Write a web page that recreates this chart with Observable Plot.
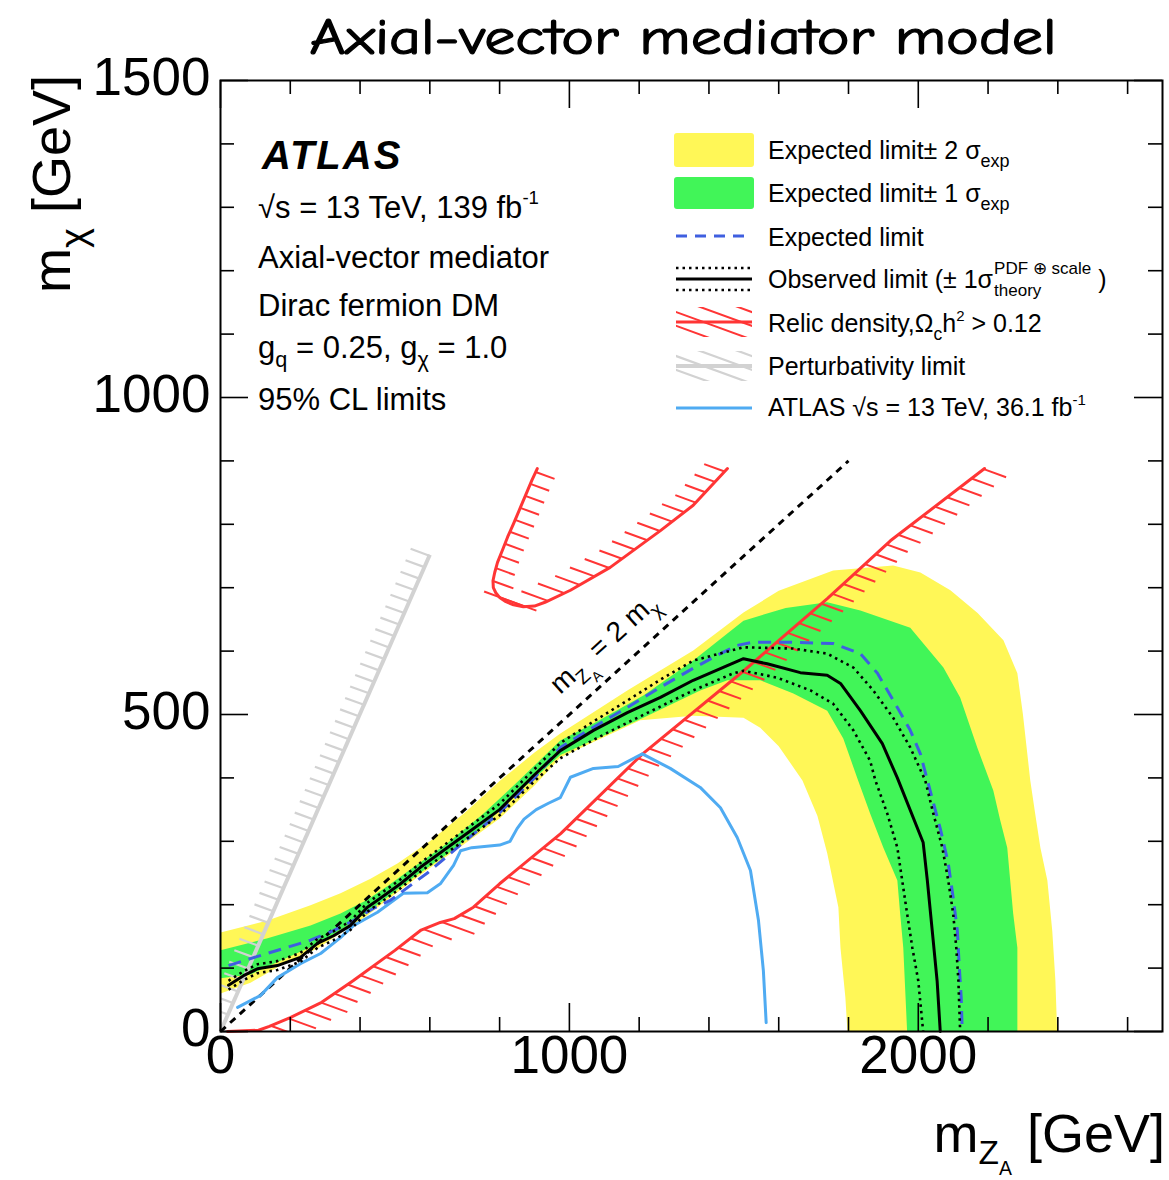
<!DOCTYPE html>
<html><head><meta charset="utf-8">
<script src="https://cdn.jsdelivr.net/npm/d3@7"></script>
<script src="https://cdn.jsdelivr.net/npm/@observablehq/plot@0.6"></script>
<style>body{margin:0;background:#fff;} #chart svg{display:block;} text{white-space:pre;}</style>
</head><body><div id="chart"></div>
<script>
// ---------------- data (GeV) ----------------
const xMajor = [0, 1000, 2000];
const xMinor = [200, 400, 600, 800, 1200, 1400, 1600, 1800, 2200, 2400, 2600];
const yMajor = [0, 500, 1000, 1500];
const yMinor = [100, 200, 300, 400, 600, 700, 800, 900, 1100, 1200, 1300, 1400];
const xTickLabels = ["0", "1000", "2000"];
const yTickLabels = ["0", "500", "1000", "1500"];

const kinematicLine = [[0, 0], [1800, 900]];
const perturbLine = [[0, 0], [600, 752]];
const relicLow = [[20,0],[109,2],[140,8],[200,22],[290,46],[380,80],[500,128],[575,160],[630,172],[670,178],[725,196],[800,233],[975,312],[1210,438],[1500,569],[1740,683],[1920,774],[2190,888]];
const relicHigh = [[908,888],[893,870],[880,853],[860,827],[840,801],[823,780],[808,759],[794,740],[786,724],[781,711],[782,700],[789,692],[801,684],[818,678],[840,673],[868,670],[900,671],[930,677],[1003,696],[1117,732],[1261,790],[1355,830],[1453,888]];
const atlas36 = [[49,38],[115,57],[163,85],[229,107],[287,123],[344,148],[381,167],[450,188],[524,218],[593,219],[630,233],[668,262],[688,285],[720,290],[800,294],[830,300],[850,320],[870,335],[905,350],[940,360],[974,369],[1003,401],[1069,415],[1140,418],[1209,438],[1289,415],[1375,385],[1433,353],[1481,306],[1519,254],[1542,175],[1556,96],[1564,14]];
const expectedLimit = [[23,104],[86,115],[181,131],[258,144],[324,159],[381,175],[438,194],[487,207],[536,227],[593,250],[700,300],[800,345],[900,400],[974,448],[1069,480],[1166,511],[1261,543],[1355,573],[1433,596],[1481,609],[1527,614],[1625,614],[1756,612],[1834,596],[1883,565],[1940,511],[1977,475],[2006,438],[2034,380],[2063,320],[2086,265],[2100,211],[2112,159],[2117,107],[2123,54],[2126,0]];
const observedLimit = [[23,73],[66,88],[106,99],[163,104],[229,117],[278,139],[324,151],[372,167],[421,196],[450,207],[516,233],[573,259],[700,310],[800,350],[900,405],[974,443],[1069,475],[1166,503],[1261,527],[1355,554],[1499,588],[1567,580],[1662,566],[1739,562],[1777,549],[1834,506],[1897,454],[1940,400],[2014,298],[2026,238],[2040,159],[2054,80],[2063,0]];
const observedUp = [[23,80],[66,95],[106,106],[163,111],[229,124],[278,146],[324,158],[372,174],[421,203],[450,214],[516,240],[573,266],[700,318],[800,359],[900,414],[974,455],[1069,489],[1166,522],[1261,555],[1355,585],[1499,606],[1642,604],[1739,596],[1814,574],[1871,538],[1928,495],[1977,448],[2020,396],[2043,344],[2069,290],[2086,238],[2100,186],[2109,132],[2115,80],[2120,0]];
const observedDown = [[23,66],[66,81],[106,92],[163,97],[229,110],[278,132],[324,144],[372,160],[421,189],[450,200],[516,226],[573,252],[700,302],[800,341],[900,395],[974,431],[1069,460],[1166,487],[1355,538],[1470,565],[1499,569],[1596,558],[1691,538],[1756,517],[1814,475],[1862,427],[1877,396],[1911,344],[1940,290],[1954,238],[1968,186],[1983,132],[2000,80],[2014,0]];
const band2Outer = [[0,156],[135,175],[258,199],[344,218],[430,241],[507,265],[600,300],[700,345],[800,395],[900,440],[974,470],[1166,538],[1355,601],[1499,661],[1600,695],[1756,727],[1928,735],[2006,724],[2092,696],[2170,660],[2244,617],[2284,565],[2300,500],[2321,396],[2335,344],[2350,290],[2370,238],[2384,159],[2393,80],[2398,0]];
const band2Inner = [[0,60],[86,77],[181,107],[278,131],[344,155],[421,183],[458,199],[600,258],[700,296],[800,336],[900,388],[974,432],[1203,491],[1355,498],[1499,495],[1547,479],[1600,450],[1668,396],[1711,340],[1739,281],[1771,196],[1777,132],[1791,54],[1797,0]];
const band1Outer = [[0,128],[135,147],[258,167],[344,186],[421,208],[478,229],[553,259],[650,297],[750,342],[850,393],[974,459],[1069,486],[1212,530],[1355,585],[1499,648],[1620,668],[1739,677],[1834,664],[1977,637],[2072,574],[2120,527],[2169,448],[2215,380],[2235,333],[2255,290],[2272,186],[2284,132],[2284,0]];
const band1Inner = [[0,84],[86,90],[181,114],[278,138],[344,160],[421,188],[458,203],[553,243],[650,280],[750,322],[850,375],[974,436],[1212,495],[1375,538],[1453,554],[1547,554],[1642,533],[1739,506],[1785,462],[1825,400],[1862,344],[1900,290],[1940,238],[1948,186],[1957,132],[1968,0]];

// ---------------- style ----------------
const YELLOW = "#fff757", GREEN = "#41f558", RED = "#ff3535", GREY = "#d2d2d2",
      LBLUE = "#4fabf2", DBLUE = "#3f5fe0";
const FONT = "'Liberation Sans', Arial, Helvetica, sans-serif";
const W = 1169, H = 1180, ML = 220, MR = 7, MT = 80, MB = 149;
const FW = W - ML - MR, FH = H - MT - MB;

const base = {
  width: W, height: H, marginLeft: ML, marginRight: MR, marginTop: MT, marginBottom: MB,
  x: {domain: [0, 2700], axis: null}, y: {domain: [0, 1500], axis: null},
  style: {fontFamily: FONT, background: "#fff", color: "#000", overflow: "visible"}
};
const probe = Plot.plot({...base, marks: [Plot.frame()]});
let sx = probe.scale("x"), sy = probe.scale("y");
const fx = sx.apply ? sx.apply : d3.scaleLinear(sx.domain, sx.range);
const fy = sy.apply ? sy.apply : d3.scaleLinear(sy.domain, sy.range);
const ix = sx.invert ? sx.invert : d3.scaleLinear(sx.domain, sx.range).invert;
const iy = sy.invert ? sy.invert : d3.scaleLinear(sy.domain, sy.range).invert;

// hatches: parallel lines at fixed angle clipped to a band on one side of the curve
function hatches(pts, side, spacing = 13, width = 20, angle = 20, maxLen = 44) {
  const th = angle * Math.PI / 180, d = [Math.cos(th), Math.sin(th)], n = [-Math.sin(th), Math.cos(th)];
  const P = pts.map(([x, y]) => [fx(x), fy(y)]);
  const segs = [];
  for (let i = 0; i < P.length - 1; i++) {
    const A = P[i], B = P[i + 1];
    const L = Math.hypot(B[0] - A[0], B[1] - A[1]); if (L === 0) continue;
    const a = A[0] * n[0] + A[1] * n[1], b = B[0] * n[0] + B[1] * n[1];
    if (a === b) continue;
    const lo = Math.min(a, b), hi = Math.max(a, b);
    const t = [(B[0] - A[0]) / L, (B[1] - A[1]) / L];
    const h = [-t[1] * side, t[0] * side];
    const dir = (d[0] * h[0] + d[1] * h[1]) > 0 ? d : [-d[0], -d[1]];
    const s = Math.abs(t[0] * d[1] - t[1] * d[0]);
    const len = Math.min(width / Math.max(s, 1e-6), maxLen);
    for (let k = Math.ceil(lo / spacing); k * spacing < hi; k++) {
      const u = (k * spacing - a) / (b - a);
      const p = [A[0] + u * (B[0] - A[0]), A[1] + u * (B[1] - A[1])];
      segs.push({x1: ix(p[0]), y1: iy(p[1]), x2: ix(p[0] + len * dir[0]), y2: iy(p[1] + len * dir[1])});
    }
  }
  return segs;
}
const poly = (outer, inner) => outer.concat(inner.slice().reverse(), [outer[0]]);
const X = d => d[0], Y = d => d[1];

const marks = [
  Plot.line(poly(band2Outer, band2Inner), {x: X, y: Y, fill: YELLOW, stroke: "none"}),
  Plot.line(poly(band1Outer, band1Inner), {x: X, y: Y, fill: GREEN, stroke: "none"}),
  Plot.link(hatches(perturbLine, -1, 12.5, 20), {x1: "x1", y1: "y1", x2: "x2", y2: "y2", stroke: GREY, strokeWidth: 2.2, clip: true}),
  Plot.line(perturbLine, {x: X, y: Y, stroke: GREY, strokeWidth: 4, strokeLinecap: "butt"}),
  Plot.link(hatches(relicLow, 1), {x1: "x1", y1: "y1", x2: "x2", y2: "y2", stroke: RED, strokeWidth: 2, clip: true}),
  Plot.link(hatches(relicHigh, -1), {x1: "x1", y1: "y1", x2: "x2", y2: "y2", stroke: RED, strokeWidth: 2, clip: true}),
  Plot.line(relicLow, {x: X, y: Y, stroke: RED, strokeWidth: 3}),
  Plot.line(relicHigh, {x: X, y: Y, stroke: RED, strokeWidth: 3}),
  Plot.line(kinematicLine, {x: X, y: Y, stroke: "#000", strokeWidth: 3, strokeDasharray: "7,6", strokeLinecap: "butt"}),
  Plot.line(atlas36, {x: X, y: Y, stroke: LBLUE, strokeWidth: 3}),
  Plot.line(expectedLimit, {x: X, y: Y, stroke: DBLUE, strokeWidth: 3, strokeDasharray: "13,8", strokeLinecap: "butt"}),
  Plot.line(observedUp, {x: X, y: Y, stroke: "#000", strokeWidth: 2.6, strokeDasharray: "2.5,4", strokeLinecap: "butt"}),
  Plot.line(observedDown, {x: X, y: Y, stroke: "#000", strokeWidth: 2.6, strokeDasharray: "2.5,4", strokeLinecap: "butt"}),
  Plot.line(observedLimit, {x: X, y: Y, stroke: "#000", strokeWidth: 3}),
  // ticks (inside the frame, ROOT style)
  Plot.ruleX(xMinor, {x: d => d, insetTop: FH - 14, stroke: "#000", strokeWidth: 1.6}),
  Plot.ruleX(xMinor, {x: d => d, insetBottom: FH - 14, stroke: "#000", strokeWidth: 1.6}),
  Plot.ruleX(xMajor, {x: d => d, insetTop: FH - 28, stroke: "#000", strokeWidth: 1.6}),
  Plot.ruleX(xMajor, {x: d => d, insetBottom: FH - 28, stroke: "#000", strokeWidth: 1.6}),
  Plot.ruleY(yMinor, {y: d => d, insetRight: FW - 14, stroke: "#000", strokeWidth: 1.6}),
  Plot.ruleY(yMinor, {y: d => d, insetLeft: FW - 14, stroke: "#000", strokeWidth: 1.6}),
  Plot.ruleY(yMajor, {y: d => d, insetRight: FW - 28, stroke: "#000", strokeWidth: 1.6}),
  Plot.ruleY(yMajor, {y: d => d, insetLeft: FW - 28, stroke: "#000", strokeWidth: 1.6}),
  Plot.frame({stroke: "#000", strokeWidth: 2}),
  Plot.text(xMajor, {x: d => d, text: (d, i) => xTickLabels[i], frameAnchor: "bottom", dy: 41, fontSize: 53, fill: "#000"}),
  Plot.text(yMajor, {y: d => d, text: (d, i) => yTickLabels[i], frameAnchor: "left", dx: -10, dy: -2, textAnchor: "end", fontSize: 53, fill: "#000"})
];

const plot = Plot.plot({...base, marks});
document.getElementById("chart").appendChild(plot);
const svg = d3.select(plot);
const g = svg.append("g").attr("font-family", FONT).attr("fill", "#000").attr("text-anchor", "start");

function rich(parent, x, y, parts, size, opts = {}) {
  const t = parent.append("text").attr("x", x).attr("y", y).attr("font-size", size)
    .attr("text-anchor", opts.anchor || "start").attr("fill", "#000");
  if (opts.transform) t.attr("transform", opts.transform);
  if (opts.weight) t.attr("font-weight", opts.weight);
  if (opts.style) t.attr("font-style", opts.style);
  if (opts.family) t.attr("font-family", opts.family);
  if (opts.spacing) t.attr("letter-spacing", opts.spacing);
  let cur = 0;
  for (const p of parts) {
    const [s, fs = 1, off = 0] = Array.isArray(p) ? p : [p];
    t.append("tspan").attr("font-size", size * fs).attr("dy", (off - cur) * size).text(s);
    cur = off;
  }
  return t;
}

// title
g.append("text").attr("x", 683).attr("y", 54).attr("text-anchor", "middle")
  .attr("font-family", "'Comic Sans MS', 'Comic Neue', 'Humor Sans', cursive")
  .attr("font-size", 50).attr("stroke", "#000").attr("stroke-width", 1.2)
  .attr("textLength", 747).attr("lengthAdjust", "spacingAndGlyphs")
  .text("Axial-vector mediator model");

// axis titles
rich(g, 0, 0, ["m", ["χ", 0.7, 0.3], [" [GeV]", 1, 0]], 54, {anchor: "end", transform: "translate(70,75) rotate(-90)"});
rich(g, 1165, 1152, ["m", ["Z", 0.62, 0.22], ["A", 0.36, 0.42], [" [GeV]", 1, 0]], 54, {anchor: "end"});

// ATLAS block
rich(g, 262, 169, ["ATLAS"], 40, {weight: "bold", style: "italic", spacing: 2});
rich(g, 258, 218, ["√s = 13 TeV, 139 fb", ["-1", 0.6, -0.45]], 31);
rich(g, 258, 268, ["Axial-vector mediator"], 31);
rich(g, 258, 316, ["Dirac fermion DM"], 31);
rich(g, 258, 358, ["g", ["q", 0.7, 0.3], [" = 0.25, g", 1, 0], ["χ", 0.7, 0.3], [" = 1.0", 1, 0]], 31);
rich(g, 258, 410, ["95% CL limits"], 31);

// kinematic label along the line
{
  const ang = Math.atan2(fy(kinematicLine[1][1]) - fy(0), fx(kinematicLine[1][0]) - fx(0)) * 180 / Math.PI;
  const px = fx(975), py = fy(530);
  rich(g, 0, 0, ["m", ["Z", 0.7, 0.3], ["A", 0.5, 0.55], [" = 2 m", 1, 0], ["χ", 0.7, 0.3]], 28,
    {transform: `translate(${px},${py}) rotate(${ang})`});
}

// legend
{
  const LX = 676, LX2 = 752, TX = 768, FS = 25;
  g.append("rect").attr("x", 674).attr("y", 133).attr("width", 80).attr("height", 34).attr("rx", 3).attr("fill", YELLOW);
  g.append("rect").attr("x", 674).attr("y", 177).attr("width", 80).attr("height", 32).attr("rx", 3).attr("fill", GREEN);
  g.append("line").attr("x1", LX).attr("x2", LX2).attr("y1", 236).attr("y2", 236).attr("stroke", DBLUE).attr("stroke-width", 3).attr("stroke-dasharray", "11,8");
  g.append("line").attr("x1", LX).attr("x2", LX2).attr("y1", 268).attr("y2", 268).attr("stroke", "#000").attr("stroke-width", 2.6).attr("stroke-dasharray", "2.5,4");
  g.append("line").attr("x1", LX).attr("x2", LX2).attr("y1", 279).attr("y2", 279).attr("stroke", "#000").attr("stroke-width", 3);
  g.append("line").attr("x1", LX).attr("x2", LX2).attr("y1", 290).attr("y2", 290).attr("stroke", "#000").attr("stroke-width", 2.6).attr("stroke-dasharray", "2.5,4");
  const defs = svg.append("defs");
  function hatchBox(id, yc, color, lw, hw) {
    defs.append("clipPath").attr("id", id).append("rect").attr("x", LX).attr("y", yc - 15).attr("width", LX2 - LX).attr("height", 30);
    const gg = g.append("g").attr("clip-path", `url(#${id})`);
    const tan = Math.tan(20 * Math.PI / 180);
    for (let k = -6; k <= 6; k++) {
      const y0 = yc + k * 13.8 - 10;
      gg.append("line").attr("x1", LX - 40).attr("y1", y0 - 40 * tan).attr("x2", LX2 + 40).attr("y2", y0 + (LX2 - LX + 40) * tan)
        .attr("stroke", color).attr("stroke-width", hw);
    }
    g.append("line").attr("x1", LX).attr("x2", LX2).attr("y1", yc).attr("y2", yc).attr("stroke", color).attr("stroke-width", lw);
  }
  hatchBox("hr", 322, RED, 3, 2);
  hatchBox("hg", 366, GREY, 4, 2.2);
  g.append("line").attr("x1", LX).attr("x2", LX2).attr("y1", 408).attr("y2", 408).attr("stroke", LBLUE).attr("stroke-width", 3);

  rich(g, TX, 159, ["Expected limit± 2 σ", ["exp", 0.72, 0.3]], FS);
  rich(g, TX, 202, ["Expected limit± 1 σ", ["exp", 0.72, 0.3]], FS);
  rich(g, TX, 246, ["Expected limit"], FS);
  const t0 = rich(g, TX, 288, ["Observed limit (± 1σ"], FS);
  const w0 = t0.node().getComputedTextLength();
  const supT = rich(g, TX + w0 + 1, 274, ["PDF ⊕ scale"], 17);
  rich(g, TX + w0 + 1, 296, ["theory"], 17);
  const w1 = supT.node().getComputedTextLength();
  rich(g, TX + w0 + w1 + 8, 288, [")"], FS);
  rich(g, TX, 332, ["Relic density,Ω", ["c", 0.7, 0.3], ["h", 1, 0], ["2", 0.6, -0.45], [" > 0.12", 1, 0]], FS);
  rich(g, TX, 375, ["Perturbativity limit"], FS);
  rich(g, TX, 416, ["ATLAS √s = 13 TeV, 36.1 fb", ["-1", 0.6, -0.45]], FS);
}
</script></body></html>
